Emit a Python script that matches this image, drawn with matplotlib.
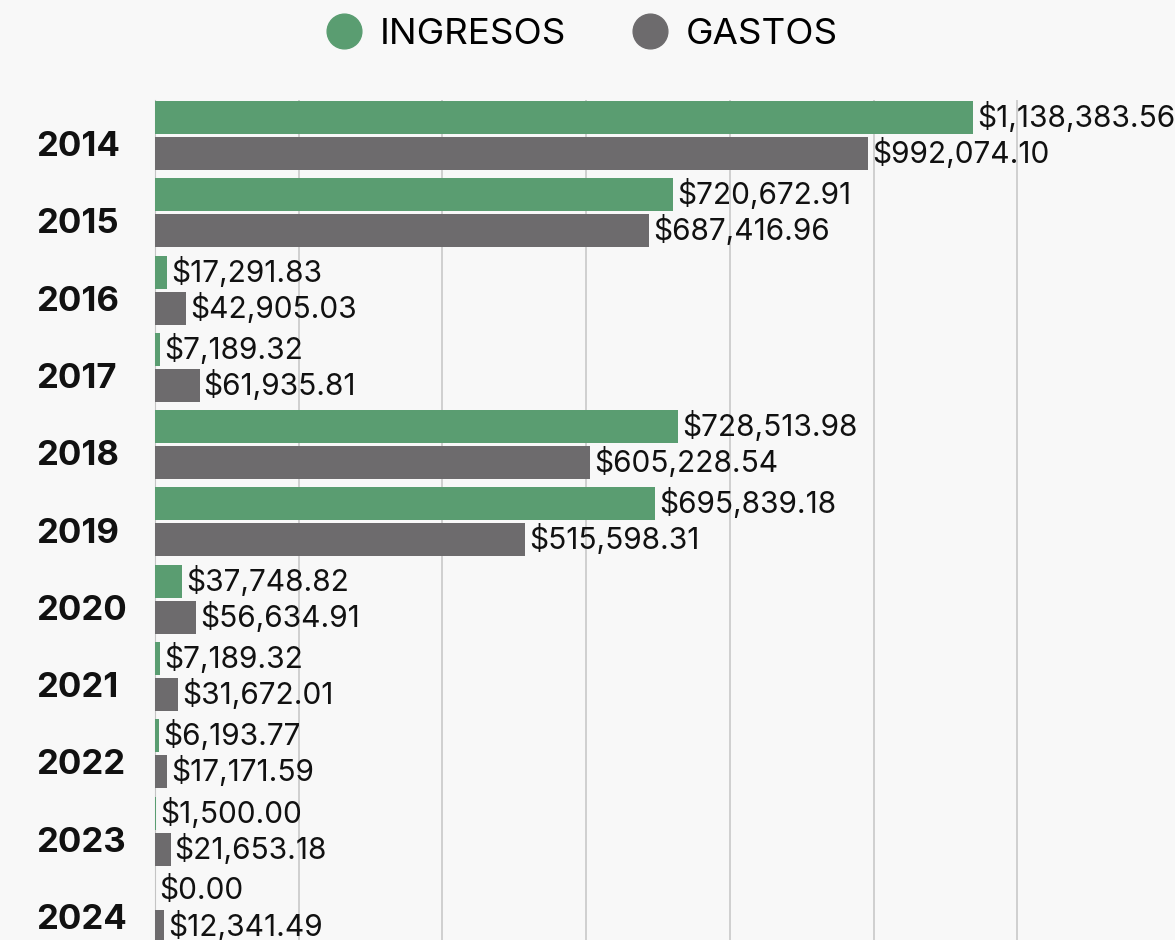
import matplotlib.pyplot as plt
import matplotlib.transforms as mtransforms
from matplotlib.lines import Line2D
import numpy as np

#> Data
years = ['2014', '2015', '2016', '2017', '2018', '2019', '2020', '2021', '2022', '2023', '2024']
ingresos = [1138383.56, 720672.91, 17291.83, 7189.32, 728513.98, 695839.18,
            37748.82, 7189.32, 6193.77, 1500.00, 0.00]
gastos = [992074.10, 687416.96, 42905.03, 61935.81, 605228.54, 515598.31,
          56634.91, 31672.01, 17171.59, 21653.18, 12341.49]

green = '#5a9d71'
grey = '#6d6b6d'
font = ['Inter', 'DejaVu Sans']
plt.rcParams['font.family'] = font

fig = plt.figure(figsize=(11.75, 9.4), dpi=100)
fig.patch.set_facecolor('#f8f8f8')

#> axes from px 155 -> 1150 horizontally, 100 -> bottom of figure
ax = fig.add_axes([155 / 1175, 0, 995 / 1175, 840 / 940])
ax.patch.set_alpha(0)

y = np.arange(len(years))
h = 0.427
off = 0.233
ax.barh(y - off, ingresos, height=h, color=green, zorder=3)
ax.barh(y + off, gastos, height=h, color=grey, zorder=3)

for yi, vi, vg in zip(y, ingresos, gastos):
    ax.annotate(f'${vi:,.2f}', (vi, yi - off), xytext=(3, 0), textcoords='offset points',
                va='center', ha='left', fontsize=21.5, color='#111111', zorder=4)
    ax.annotate(f'${vg:,.2f}', (vg, yi + off), xytext=(3, 0), textcoords='offset points',
                va='center', ha='left', fontsize=21.5, color='#111111', zorder=4)

ax.set_xticks(np.arange(200000, 1200001, 200000))
ax.set_xlim(0, 1.3848e6)
ax.set_ylim(10.41, -0.46)
ax.xaxis.grid(True, color='#c4c4c4', lw=1.1, zorder=0)
ax.tick_params(left=False, bottom=False, labelbottom=False, labelleft=False)
for s in ['top', 'right', 'bottom']:
    ax.spines[s].set_visible(False)
ax.spines['left'].set_color('#c4c4c4')

#> year labels, left aligned at x=37px
trans = mtransforms.blended_transform_factory(fig.transFigure, ax.transData)
for yi, yr in zip(y, years):
    ax.text(36 / 1175, yi + 0.15, yr, transform=trans, ha='left', va='center',
            fontsize=25, fontweight='bold', color='#111111')

handles = [Line2D([], [], ls='', marker='o', ms=25, color=green),
           Line2D([], [], ls='', marker='o', ms=25, color=grey)]
fig.legend(handles, ['INGRESOS', 'GASTOS'], loc='center', bbox_to_anchor=(0.495, 0.963),
           ncol=2, frameon=False, fontsize=26.5, handletextpad=0.47, columnspacing=1.8,
           handlelength=1.0)

fig.savefig('out.png', dpi=100, facecolor=fig.get_facecolor())
